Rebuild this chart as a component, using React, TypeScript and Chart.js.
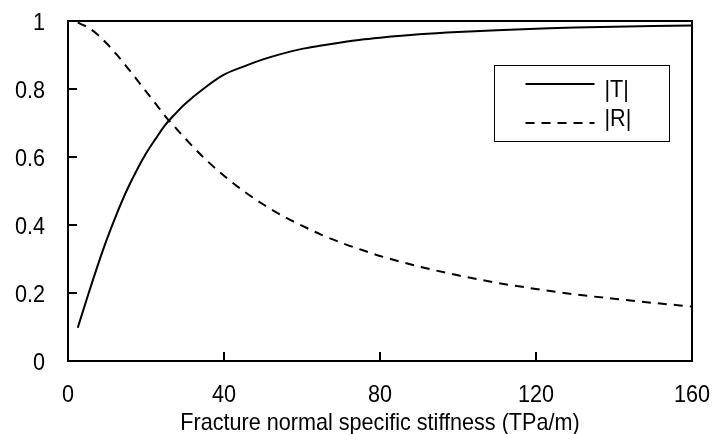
import React, { useEffect, useRef } from 'react';
import { Chart, registerables } from 'chart.js';
Chart.register(...registerables);

// Fracture normal specific stiffness (TPa/m)
const stiffness = [2.5, 5, 7.5, 10, 12.5, 15, 17.5, 20, 22.5, 25, 27.5, 30, 35, 40, 45, 50, 55, 60, 65, 70, 75, 80, 90, 100, 110, 120, 130, 140, 150, 160];
const transmission = [0.098, 0.189, 0.277, 0.359, 0.433, 0.5, 0.558, 0.61, 0.654, 0.695, 0.727, 0.756, 0.803, 0.842, 0.866, 0.887, 0.904, 0.918, 0.928, 0.937, 0.945, 0.951, 0.961, 0.968, 0.973, 0.977, 0.981, 0.983, 0.985, 0.987];
const reflection = [0.995, 0.982, 0.961, 0.933, 0.901, 0.866, 0.83, 0.793, 0.756, 0.719, 0.687, 0.655, 0.596, 0.545, 0.5, 0.461, 0.427, 0.398, 0.371, 0.348, 0.328, 0.309, 0.278, 0.252, 0.23, 0.212, 0.196, 0.183, 0.171, 0.16];
const seriesNames = ['|T|', '|R|'];
const xTickValues = [0, 40, 80, 120, 160];
const xTickLabels = ['0', '40', '80', '120', '160'];
const yTickValues = [0, 0.2, 0.4, 0.6, 0.8, 1];
const yTickLabels = ['0', '0.2', '0.4', '0.6', '0.8', '1'];
const xTitle = 'Fracture normal specific stiffness (TPa/m)';

const FONT = '"Liberation Sans", Arial, sans-serif';
const FONT_SIZE = 24;
const SX = 0.9; // horizontal condensing to mimic a narrow face
const DASH = [9, 7];

function drawText(ctx: CanvasRenderingContext2D, text: string, x: number, y: number, align: CanvasTextAlign) {
  ctx.save();
  ctx.translate(x, y);
  ctx.scale(SX, 1);
  ctx.textAlign = align;
  ctx.textBaseline = 'alphabetic';
  ctx.fillText(text, 0, 0);
  ctx.restore();
}

const framePlugin = {
  id: 'frameAndLegend',
  afterDraw(chart: any) {
    const { ctx, chartArea, scales } = chart;
    const { left, right, top, bottom } = chartArea;
    ctx.save();
    ctx.strokeStyle = '#000';
    ctx.fillStyle = '#000';
    ctx.lineWidth = 2;
    ctx.setLineDash([]);
    ctx.strokeRect(left, top, right - left, bottom - top);

    // inward tick marks
    ctx.beginPath();
    for (const v of xTickValues) {
      const px = Math.round(scales.x.getPixelForValue(v));
      ctx.moveTo(px, bottom);
      ctx.lineTo(px, bottom - 9);
    }
    for (const v of yTickValues) {
      const py = Math.round(scales.y.getPixelForValue(v));
      ctx.moveTo(left, py);
      ctx.lineTo(left + 9, py);
    }
    ctx.stroke();

    // tick labels and axis title
    ctx.font = `${FONT_SIZE}px ${FONT}`;
    xTickValues.forEach((v, i) => {
      drawText(ctx, xTickLabels[i], scales.x.getPixelForValue(v), bottom + 41, 'center');
    });
    yTickValues.forEach((v, i) => {
      drawText(ctx, yTickLabels[i], left - 23, scales.y.getPixelForValue(v) + 8.5, 'right');
    });
    drawText(ctx, xTitle, (left + right) / 2, bottom + 69, 'center');

    // legend
    const bx = right - 197.5;
    const by = top + 44.5;
    ctx.lineWidth = 1;
    ctx.strokeRect(bx, by, 175, 76);
    ctx.lineWidth = 2;
    const lineRows = [by + 18.5, by + 57.5];
    const textRows = [by + 31.5, by + 60.5];
    seriesNames.forEach((name, i) => {
      ctx.setLineDash(i === 0 ? [] : DASH);
      ctx.beginPath();
      ctx.moveTo(bx + 31, lineRows[i]);
      ctx.lineTo(bx + 100, lineRows[i]);
      ctx.stroke();
      ctx.setLineDash([]);
      drawText(ctx, name, bx + 110, textRows[i], 'left');
    });
    ctx.restore();
  },
};

export default function App() {
  const ref = useRef<HTMLCanvasElement>(null);
  useEffect(() => {
    if (!ref.current) return;
    const chart = new Chart(ref.current, {
      type: 'line',
      data: {
        datasets: [
          {
            label: seriesNames[0],
            data: stiffness.map((x, i) => ({ x, y: transmission[i] })),
            borderColor: '#000',
            borderWidth: 2,
            pointRadius: 0,
            cubicInterpolationMode: 'monotone',
            fill: false,
          },
          {
            label: seriesNames[1],
            data: stiffness.map((x, i) => ({ x, y: reflection[i] })),
            borderColor: '#000',
            borderWidth: 2,
            borderDash: DASH,
            pointRadius: 0,
            cubicInterpolationMode: 'monotone',
            fill: false,
          },
        ],
      },
      options: {
        animation: false,
        responsive: true,
        maintainAspectRatio: false,
        layout: { padding: { left: 68, top: 21, right: 20, bottom: 73 } },
        plugins: { legend: { display: false }, tooltip: { enabled: false } },
        scales: {
          x: {
            type: 'linear',
            min: 0,
            max: 160,
            ticks: { display: false, stepSize: 40 },
            grid: { display: false },
            border: { display: false },
            afterFit: (s: any) => { s.height = 0; },
          },
          y: {
            min: 0,
            max: 1,
            ticks: { display: false, stepSize: 0.2 },
            grid: { display: false },
            border: { display: false },
            afterFit: (s: any) => { s.width = 0; },
          },
        },
      },
      plugins: [framePlugin],
    } as any);
    return () => chart.destroy();
  }, []);
  return (
    <div style={{ position: 'fixed', left: 0, top: 0, width: 712, height: 434, background: '#fff' }}>
      <canvas ref={ref} />
    </div>
  );
}
